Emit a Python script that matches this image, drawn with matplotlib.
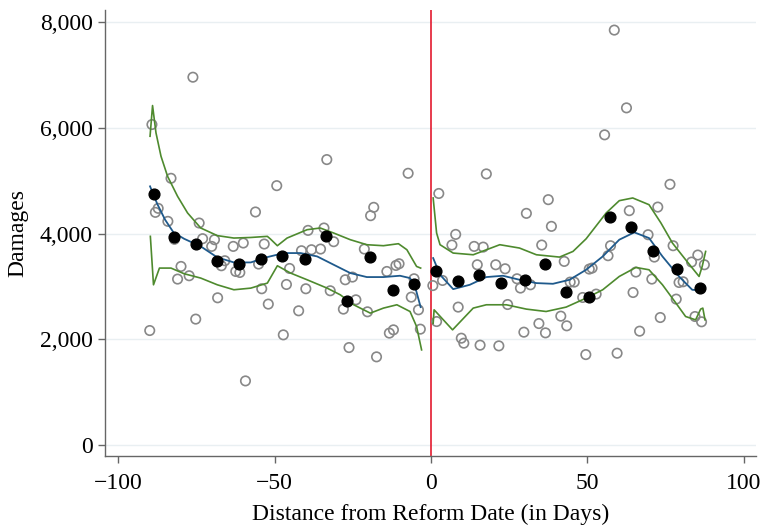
import matplotlib

matplotlib.use('Agg')

import matplotlib.pyplot as plt
from matplotlib.ticker import FuncFormatter

# raw daily observations (hollow circles)
raw_x_left = [-89.2, -76.1, -83.1, -87.2, -88.1, -84.1, -74.1, -56.1, -49.3, -33.3,
              -7.3, -18.3, -19.3, -39.3, -34.2, -82.0, -73.0, -70.1, -69.2, -63.2,
              -60.0, -53.3, -79.9, -81.0, -77.3, -65.9, -67.0, -62.4, -61.1, -55.1,
              -45.2, -41.4, -38.2, -35.3, -31.1, -21.3, -68.2, -75.2, -89.9, -54.1,
              -52.0, -46.2, -47.2, -40.0, -42.3, -59.3, -32.2, -27.4, -25.1, -24.0,
              -28.0, -20.3, -26.2, -17.4, -14.1, -11.2, -10.2, -13.3, -12.0, -5.4,
              -6.3, -4.0, -3.4]
raw_y_left = [6061, 6956, 5044, 4476, 4400, 4230, 4198, 4407, 4905, 5398,
              5139, 4495, 4337, 4059, 4104, 3890, 3902, 3756, 3883, 3756,
              3820, 3801, 3377, 3138, 3201, 3485, 3390, 3282, 3263, 3422,
              3339, 3674, 3693, 3706, 3845, 3706, 2784, 2381, 2165, 2955,
              2665, 3036, 2083, 2955, 2538, 1212, 2917, 3125, 3176, 2746,
              2570, 2519, 1843, 1667, 3282, 3396, 3428, 2116, 2178, 3144,
              2797, 2557, 2191]
raw_x_right = [2.5, 0.6, 1.8, 7.9, 6.7, 13.8, 16.7, 38.5, 35.4, 42.6,
               14.8, 20.7, 23.7, 3.7, 27.5, 28.6, 31.8, 44.5, 45.8, 50.6,
               51.5, 56.6, 57.4, 48.5, 52.8, 8.7, 24.5, 9.7, 10.5, 15.7,
               21.7, 29.7, 34.5, 36.6, 41.5, 43.4, 49.5, 59.5, 69.4, 71.4,
               65.5, 70.6, 64.6, 66.7, 73.3, 77.4, 79.3, 80.6, 78.4, 83.3,
               85.3, 87.4, 84.4, 86.5, 58.6, 62.5, 55.5, 17.7, 76.4, 37.5,
               30.5, 72.5, 63.4]
raw_y_right = [4757, 3015, 2335, 3983, 3782, 3756, 3743, 4135, 3782, 3472,
               3409, 3409, 3333, 3112, 3144, 2968, 3030, 3081, 3081, 3327,
               3346, 3580, 3769, 2790, 2854, 2608, 2657, 2020, 1926, 1888,
               1875, 2134, 2297, 2121, 2437, 2254, 1710, 1736, 3977, 3554,
               3271, 3138, 2884, 2153, 2411, 3769, 3074, 3087, 2759, 3460,
               3593, 3409, 2430, 2330, 7847, 6376, 5866, 5127, 4930, 4640,
               4381, 4500, 4432]

# binned means (filled dots)
bin_x = [-88.6, -82.3, -75.2, -68.4, -61.4, -54.2, -47.5, -40.3, -33.4, -26.7,
         -19.4, -12.2, -5.3, 1.6, 8.5, 15.4, 22.4, 30.2, 36.3, 43.2,
         50.5, 57.3, 64.1, 71.0, 78.7, 85.9]
bin_y = [4754, 3939, 3801, 3479, 3422, 3523, 3566, 3523, 3958, 2721,
         3547, 2930, 3049, 3295, 3093, 3207, 3055, 3112, 3428, 2903,
         2803, 4318, 4122, 3661, 3333, 2960]

# local polynomial fit, left of cutoff
fit_x_left = [-89.8, -87.5, -85.0, -82.3, -78.9, -73.6, -68.3, -63.0, -57.6, -52.3,
              -47.0, -41.7, -36.4, -31.1, -25.8, -20.5, -15.2, -9.9, -6.7, -5.1, -3.3]
fit_y_left = [4892, 4560, 4261, 4020, 3900, 3756, 3548, 3453, 3453, 3554,
              3630, 3630, 3567, 3409, 3252, 3176, 3176, 3201, 3157, 2998, 2608]
hi_x_left = [-89.8, -89.0, -87.9, -86.3, -84.2, -81.0, -77.8, -73.6, -68.3, -63.0,
             -57.6, -52.3, -51.3, -49.1, -46.0, -39.6, -35.4, -31.1, -25.8, -20.5,
             -15.2, -10.4, -7.7, -4.6, -3.3]
hi_y_left = [5839, 6420, 5903, 5461, 5082, 4703, 4388, 4104, 3960, 3914,
             3925, 3946, 3895, 3769, 3914, 4072, 4104, 4009, 3883, 3788,
             3769, 3807, 3693, 3377, 3346]
lo_x_left = [-89.7, -88.7, -86.8, -83.1, -78.9, -73.6, -68.3, -63.0, -57.6, -52.3,
             -49.1, -44.9, -39.6, -33.2, -29.0, -24.7, -19.4, -15.2, -10.9, -6.7,
             -4.6, -3.0]
lo_y_left = [3946, 3030, 3346, 3346, 3239, 3157, 3030, 2936, 2967, 3062,
             3390, 3252, 3125, 2967, 2841, 2652, 2494, 2589, 2652, 2525,
             2241, 1799]

# local polynomial fit, right of cutoff
fit_x_right = [0.7, 2.9, 7.1, 12.4, 17.7, 23.0, 28.3, 33.7, 39.0, 44.3,
               49.6, 54.9, 60.2, 65.0, 69.7, 74.0, 79.3, 83.5, 86.2, 87.6]
fit_y_right = [3535, 3220, 2948, 3030, 3176, 3201, 3125, 3062, 3049, 3125,
               3314, 3566, 3883, 4021, 3914, 3566, 3188, 2936, 2922, 2998]
hi_x_right = [0.7, 1.8, 2.9, 7.1, 13.5, 22.0, 28.3, 33.7, 41.1, 45.4,
              49.6, 56.0, 60.2, 64.5, 69.7, 73.5, 77.2, 81.4, 85.7, 86.7, 87.8]
hi_y_right = [4672, 4009, 3788, 3630, 3598, 3788, 3725, 3598, 3554, 3661,
              3900, 4388, 4621, 4672, 4545, 4200, 3819, 3504, 3188, 3377, 3661]
lo_x_right = [0.7, 1.0, 6.9, 13.5, 17.7, 24.1, 30.5, 36.8, 43.2, 49.6,
              54.9, 60.2, 65.5, 69.7, 74.0, 78.3, 81.4, 84.6, 86.2, 86.9, 87.6]
lo_y_right = [2300, 2557, 2178, 2589, 2652, 2652, 2570, 2525, 2608, 2778,
              2936, 3188, 3358, 3314, 3030, 2684, 2430, 2367, 2570, 2589, 2367]

plt.rcParams['font.family'] = ['Liberation Serif', 'DejaVu Serif']

fig = plt.figure(figsize=(7.6, 5.28), dpi=100)
ax = fig.add_axes([105 / 760, 1 - 456 / 528, (756 - 105) / 760, (456 - 10) / 528])

blue = '#1f5a8c'
green = '#4e8a2e'

ax.scatter(raw_x_left + raw_x_right, raw_y_left + raw_y_right, s=46,
           facecolors='none', edgecolors='#888888', linewidths=1.2, zorder=3)
for xs, ys in ((hi_x_left, hi_y_left), (lo_x_left, lo_y_left),
               (hi_x_right, hi_y_right), (lo_x_right, lo_y_right)):
    ax.plot(xs, ys, color=green, lw=1.2, zorder=4)
ax.plot(fit_x_left, fit_y_left, color=blue, lw=1.3, zorder=4)
ax.plot(fit_x_right, fit_y_right, color=blue, lw=1.3, zorder=4)
ax.scatter(bin_x, bin_y, s=60, color='black', zorder=5)

ax.axvline(0, color='#e31a2f', lw=1.2, zorder=2)

ax.set_xlim(-104.2, 103.9)
ax.set_ylim(-208, 8227)
ax.set_xticks([-100, -50, 0, 50, 100])
ax.set_xticklabels(['\u2212100', '\u221250', '0', '50', '100'])
ax.set_yticks([0, 2000, 4000, 6000, 8000])
ax.yaxis.set_major_formatter(FuncFormatter(lambda v, _: f'{int(v):,}'))
ax.grid(axis='y', color='#e9eff2', lw=1.0, zorder=0)
ax.set_axisbelow(True)

for side in ('top', 'right'):
    ax.spines[side].set_visible(False)
for side in ('left', 'bottom'):
    ax.spines[side].set_color('#666666')
    ax.spines[side].set_linewidth(1.0)
ax.tick_params(direction='out', length=5, width=1.0, color='#666666',
               labelsize=17)
ax.tick_params(axis='x', pad=7)
ax.tick_params(axis='y', pad=4)

ax.set_xlabel('Distance from Reform Date (in Days)', fontsize=17, labelpad=7)
ax.set_ylabel('Damages', fontsize=17, labelpad=8)

fig.savefig('out.png', dpi=100)
